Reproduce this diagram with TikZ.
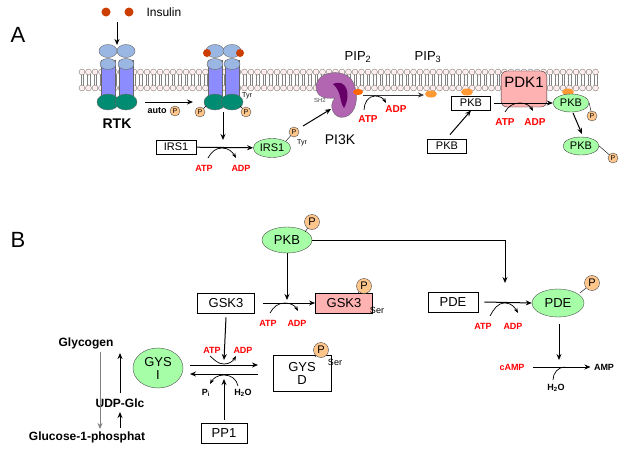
\documentclass[tikz,border=0pt]{standalone}
\usepackage{fontspec}
\setmainfont{Liberation Sans}
\usetikzlibrary{arrows.meta,shapes.geometric}
\begin{document}
\begin{tikzpicture}[x=1pt,y=-1pt,
  font=\fontsize{11}{12}\selectfont,
  arr/.style={-{Stealth[length=6pt,width=5pt]},line width=1pt},
  box/.style={draw,line width=0.8pt,minimum height=14pt,inner sep=1.5pt},
  gel/.style={ellipse,draw=black!70,fill=green!35!white,inner sep=1pt},
  ph/.style={circle,draw=black!70,fill=orange!45,inner sep=0pt,minimum size=10pt,font=\fontsize{7}{7}\selectfont},
  red/.style={text=red,font=\bfseries\fontsize{9}{10}\selectfont},
  blk/.style={font=\bfseries\fontsize{9}{10}\selectfont},
  big/.style={font=\bfseries\fontsize{12}{13}\selectfont}]
\useasboundingbox (0,0) rectangle (625,450);
\fill[white] (0,0) rectangle (625,450);
% membrane
\foreach \x in {82,88.5,...,600}{
  \draw[black!50,line width=0.3pt] (\x-1.2,74) -- (\x-1.2,86) (\x+1.2,74) -- (\x+1.2,86);
  \filldraw[draw=black!60,fill=pink!30,line width=0.3pt] (\x,72) circle (3) (\x,88) circle (3);}
\node[font=\fontsize{22}{22}\selectfont] (A) at (18,35) {A};
\node[font=\fontsize{22}{22}\selectfont] (B) at (18,240) {B};
% insulin
\fill[orange!60!red!80!black] (106,12) circle (4.5) (129,12) circle (4.5);
\node[anchor=west,font=\fontsize{12}{13}\selectfont] (ins) at (143,12) {Insulin};
\coordinate (i1) at (117,22); \coordinate (i2) at (117,45);
\draw[arr] (i1) -- (i2);
% receptors
\foreach \c in {108,126,215,232}{
  \filldraw[draw=black!60,fill=blue!45!white] (\c-7,60) rectangle (\c+7,96);
  \filldraw[draw=black!60,fill=cyan!50!blue!40] (\c,51) ellipse (9 and 6.5) (\c,64) ellipse (8 and 5.5);
  \filldraw[draw=black!60,fill=teal!90!green] (\c,102) ellipse (11 and 8);}
\fill[orange!60!red!80!black] (207,53) circle (4) (240,53) circle (4);
\node[font=\bfseries\fontsize{14}{15}\selectfont] (rtk) at (117,124) {RTK};
\coordinate (au1) at (145,102); \coordinate (au2) at (193,102);
\draw[arr] (au1) -- (au2);
\node[blk] (auto) at (157,111) {auto};
\node[ph] (pa) at (175,111) {P};
\node[ph] (p1) at (200,112) {P}; \node[ph] (p2) at (246,112) {P};
\draw (p1) -- (206,106) (p2) -- (240,106);
\node[font=\fontsize{7}{7}\selectfont] (tyr1) at (247,96) {Tyr};
\coordinate (r1) at (223,112); \coordinate (r2) at (223,140);
\draw[arr] (r1) -- (r2);
\node[box,minimum width=40pt] (irs) at (176,147) {IRS1};
\node[gel,minimum width=34pt,minimum height=19pt] (irsp) at (272,148) {IRS1};
\draw[arr] (irs) -- (irsp);
\node[red] (atp1) at (204,168) {ATP}; \node[red] (adp1) at (241,168) {ADP};
\draw[-{Stealth[length=5pt]},line width=0.7pt] (208,158) to[out=60,in=180] (222,148) to[out=0,in=120] (236,158);
\node[ph] (p3) at (294,132) {P}; \draw (p3) -- (286,141);
\node[font=\fontsize{7}{7}\selectfont] (tyr2) at (302,143) {Tyr};
% PI3K
\filldraw[draw=black!60,fill=violet!60!white] (316,86) .. controls (318,70) and (346,68) .. (353,82) .. controls (360,97) and (356,114) .. (345,117) .. controls (333,120) and (328,105) .. (335,98) .. controls (326,99) and (316,98) .. (316,86) -- cycle;
\fill[violet!80!black] (333,84) .. controls (346,78) and (352,94) .. (344,108) .. controls (339,101) and (342,92) .. (333,84);
\node[font=\fontsize{6}{6}\selectfont,black!70] (sh2) at (320,100) {SH2};
\node[font=\fontsize{14}{15}\selectfont] (pi3k) at (340,140) {PI3K};
\draw[arr] (303,126) -- (331,109);
\node[font=\fontsize{13}{14}\selectfont] (pip2) at (358,57) {PIP\textsubscript{2}};
\node[font=\fontsize{13}{14}\selectfont] (pip3) at (428,57) {PIP\textsubscript{3}};
\fill[orange!80!red] (358,92) ellipse (5 and 3);
\fill[orange!80] (431,94) ellipse (6 and 3.5) (467,92) ellipse (6 and 3.5) (568,92) ellipse (6 and 3.5);
\node[red,font=\bfseries\fontsize{10}{11}\selectfont] (atp2) at (368,119) {ATP};
\node[red,font=\bfseries\fontsize{10}{11}\selectfont] (adp2) at (396,109) {ADP};
\coordinate (pp1) at (363,95); \coordinate (pp2) at (424,95);
\draw[arr,black!80] (pp1) -- (pp2);
\draw[-{Stealth[length=5pt]},line width=0.7pt] (364,110) to[out=90,in=180] (375,96) to[out=0,in=120] (386,103);
% PKB
\node[box,minimum width=39pt] (pkbm) at (471,103) {PKB};
\node[box,minimum width=39pt] (pkbc) at (447,146) {PKB};
\draw[arr] (pkbc.north) ++(3,-4) -- (pkbm.south);
\node[draw=black!80,fill=red!30,rounded corners=6pt,minimum width=44pt,minimum height=36pt,text depth=14pt,font=\fontsize{15}{16}\selectfont] (pdk1) at (524,89) {PDK1};
\node[red,font=\bfseries\fontsize{10}{11}\selectfont] (atp3) at (505,122) {ATP};
\node[red,font=\bfseries\fontsize{10}{11}\selectfont] (adp3) at (535,122) {ADP};
\node[gel,minimum width=36pt,minimum height=18pt] (pkb1) at (571,103) {PKB};
\draw[arr] (pkbm.east) ++(3,0) -- (pkb1.west);
\draw[-{Stealth[length=5pt]},line width=0.7pt] (505,112) to[out=60,in=180] (520,103) to[out=0,in=120] (533,111);
\node[ph] (p4) at (592,116) {P}; \draw (p4) -- (pkb1.east);
\node[gel,minimum width=36pt,minimum height=18pt] (pkb2) at (581,146) {PKB};
\node[ph] (p5) at (613,158) {P}; \draw (p5) -- (pkb2.east);
\draw[arr] (573,113) -- (582,134);
% Part B
\node[gel,minimum width=50pt,minimum height=26pt,font=\fontsize{13}{14}\selectfont] (pkbB) at (287,240) {PKB};
\node[ph,minimum size=15pt,font=\fontsize{11}{11}\selectfont] (p6) at (312,222) {P}; \draw (p6) -- (305,232);
\coordinate (c1) at (505,240); \coordinate (c2) at (505,283);
\draw[arr] (pkbB.east) -- (c1) -- (c2);
\coordinate (g0) at (287,300);
\draw[arr] (pkbB.south) -- (g0);
\node[box,minimum width=57pt,minimum height=20pt,font=\fontsize{13}{14}\selectfont] (gsk) at (226,303) {GSK3};
\node[box,fill=red!30,minimum width=57pt,minimum height=20pt,font=\fontsize{13}{14}\selectfont] (gskp) at (344,303) {GSK3};
\draw[arr] (gsk.east) ++(8,0) -- (gskp.west);
\node[red] (atp4) at (268,323) {ATP}; \node[red] (adp4) at (297,323) {ADP};
\draw[-{Stealth[length=5pt]},line width=0.7pt] (270,313) to[out=60,in=180] (285,303) to[out=0,in=120] (298,311);
\node[ph,minimum size=15pt,font=\fontsize{11}{11}\selectfont] (p7) at (364,286) {P}; \draw (p7) -- (358,293);
\node[font=\fontsize{9}{9}\selectfont] (ser1) at (377,310) {Ser};
\node[box,minimum width=50pt,minimum height=20pt,font=\fontsize{13}{14}\selectfont] (pde) at (453,302) {PDE};
\node[gel,minimum width=52pt,minimum height=28pt,font=\fontsize{13}{14}\selectfont] (pdep) at (558,303) {PDE};
\draw[arr] (pde.east) ++(6,0) -- (pdep.west);
\node[red] (atp5) at (483,326) {ATP}; \node[red] (adp5) at (513,326) {ADP};
\draw[-{Stealth[length=5pt]},line width=0.7pt] (490,316) to[out=60,in=180] (505,303) to[out=0,in=120] (518,313);
\node[ph,minimum size=15pt,font=\fontsize{11}{11}\selectfont] (p8) at (592,283) {P}; \draw (p8) -- (580,293);
\coordinate (pd1) at (559,324); \coordinate (pd2) at (559,360);
\draw[arr] (pd1) -- (pd2);
\node[red] (camp) at (512,367) {cAMP};
\node[blk] (amp) at (604,367) {AMP};
\draw[arr] (camp.east) ++(5,0) -- (amp.west);
\node[blk] (h2o1) at (556,388) {H\textsubscript{2}O};
\draw[line width=0.7pt] (553,380) to[out=90,in=180] (565,367);
% glycogen
\node[box,minimum width=58pt,minimum height=36pt,align=center,font=\fontsize{13}{13}\selectfont] (gysd) at (302,373) {GYS\\D};
\node[gel,minimum width=50pt,minimum height=40pt,align=center,font=\fontsize{13}{13}\selectfont] (gysi) at (158,368) {GYS\\I};
\coordinate (ga1) at (190,365); \coordinate (ga2) at (258,365);
\coordinate (gb1) at (258,374); \coordinate (gb2) at (190,374);
\draw[arr] (ga1) -- (ga2); \draw[arr] (gb1) -- (gb2);
\node[red] (atp6) at (212,350) {ATP}; \node[red] (adp6) at (243,350) {ADP};
\draw[-{Stealth[length=5pt]},line width=0.7pt] (210,356) to[out=-40,in=180] (224,364) to[out=0,in=-120] (236,356);
\node[blk] (pi) at (206,393) {P\textsubscript{i}};
\node[blk] (h2o2) at (243,393) {H\textsubscript{2}O};
\draw[-{Stealth[length=5pt]},line width=0.7pt] (238,386) to[out=100,in=0] (224,375) to[out=180,in=60] (210,384);
\draw[arr] (gsk.south) ++(0,4) -- (224,360);
\node[box,minimum width=46pt,minimum height=20pt,font=\fontsize{13}{14}\selectfont] (pp1b) at (224,433) {PP1};
\draw[arr] (pp1b.north) ++(0,-3) -- (224,379);
\node[ph,minimum size=15pt,font=\fontsize{11}{11}\selectfont] (p9) at (321,350) {P}; \draw (p9) -- (315,357);
\node[font=\fontsize{9}{9}\selectfont] (ser2) at (335,362) {Ser};
\node[big] (glyc) at (86,343) {Glycogen};
\node[big] (udp) at (120,403) {UDP-Glc};
\node[big] (g1p) at (87,437) {Glucose-1-phosphat};
\draw[arr] (udp.north) ++(0,-2) -- (120,353);
\draw[arr] (120,428) -- (120,412);
\draw[arr,gray,line width=0.7pt] (100,352) -- (100,429);
\end{tikzpicture}
\end{document}
